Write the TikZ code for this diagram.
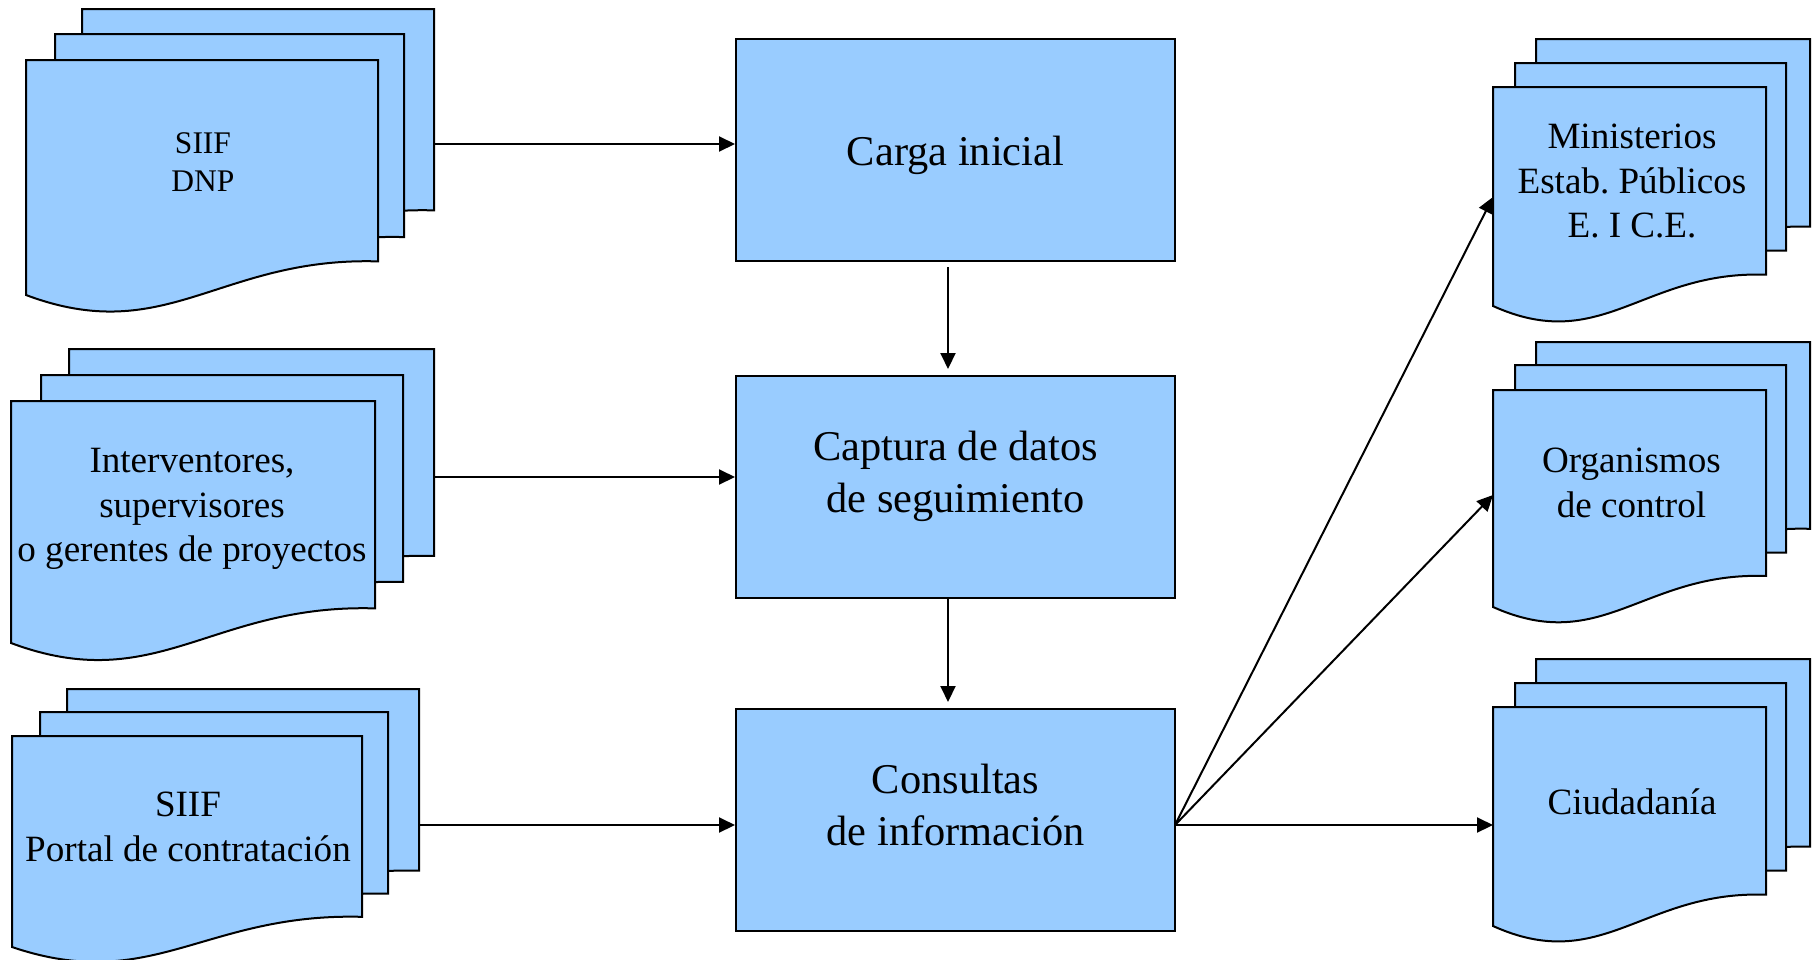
\documentclass[tikz,border=0pt]{standalone}
\usepackage{fontspec}
\setmainfont{Liberation Serif}
\usetikzlibrary{arrows.meta}
\definecolor{docblue}{RGB}{153,204,255}
\frenchspacing
% document page: left, top, width, height (to the lower left corner)
\newcommand{\docpage}[4]{%
  \filldraw[page] (#1,#2) -- ({#1+#3},#2) -- ({#1+#3},{#2+0.857*#4})
    .. controls ({#1+0.55*#3},{#2+0.837*#4}) and ({#1+0.4*#3},{#2+1.225*#4}) .. (#1,{#2+#4}) -- cycle;}
\begin{document}
\begin{tikzpicture}[x=0.5pt,y=-0.5pt,
  page/.style={fill=docblue,draw=black,line width=1pt},
  box/.style={rectangle,fill=docblue,draw=black,line width=1pt,minimum width=219.5pt,minimum height=111pt,inner sep=0pt},
  ctext/.style={align=center,inner sep=0pt,font=\fontsize{21.2}{26}\selectfont},
  dtext/.style={align=center,inner sep=0pt,font=\fontsize{18.55}{22.3}\selectfont},
  stext/.style={align=center,inner sep=0pt,font=\fontsize{15.75}{19.2}\selectfont},
  arr/.style={-{Triangle[length=8pt,width=7.5pt]},line width=1pt}]
\useasboundingbox (0,0) rectangle (1814,959);

% left documents
\docpage{82}{9}{352}{235}
\docpage{55}{34}{349}{237}
\docpage{26}{60}{352}{235}
\node[stext] (doc1) at (203,162) {SIIF\\DNP};

\docpage{69}{349}{365}{241.5}
\docpage{41}{375}{362}{241.5}
\docpage{11}{401}{364}{242}
\node[dtext] (doc2) at (192,509) {Interventores,\\supervisores\\o gerentes de proyectos};

\docpage{67}{689}{352}{212}
\docpage{40}{712}{348}{212}
\docpage{12}{736}{350}{211}
\node[dtext] (doc3) at (188,827) {SIIF\\Portal de contratación};

% right documents
\docpage{1536}{39}{274}{219}
\docpage{1515}{63}{271}{219}
\docpage{1493}{87}{273}{219}
\node[dtext] (out1) at (1632,181) {Ministerios\\Estab. Públicos\\E. I C.E.};

\docpage{1536}{342}{274}{218}
\docpage{1515}{365}{271}{219}
\docpage{1493}{390}{273}{217}
\node[dtext] (out2) at (1631.5,483) {Organismos\\de control};

\docpage{1536}{659}{274}{219}
\docpage{1515}{683}{271}{219}
\docpage{1493}{707}{273}{219}
\node[dtext] (out3) at (1632,802) {Ciudadanía};

% process boxes
\node[box] (carga) at (955.5,150) {};
\node[ctext] (cargat) at (955.5,155) {Carga inicial};
\node[box] (captura) at (955.5,487) {};
\node[ctext] (capturat) at (955.5,476) {Captura de datos\\de seguimiento};
\node[box] (consultas) at (955.5,820) {};
\node[ctext] (consultast) at (955.5,804.5) {Consultas\\de información};

% connection points
\coordinate (d1out) at (434,144);
\coordinate (d2out) at (434,477);
\coordinate (d3out) at (419,825);
\coordinate (cout) at (1175,825);
\coordinate (r1in) at (1493,197);
\coordinate (r2in) at (1493,495);
\coordinate (r3in) at (1493,825);
\coordinate (vx) at (948,0);

% connectors
\draw[arr] (d1out) -- (d1out -| carga.west);
\draw[arr] (d2out) -- (d2out -| captura.west);
\draw[arr] (d3out) -- (d3out -| consultas.west);
\draw[arr,shorten <=2.5pt,shorten >=3pt] (carga.south -| vx) -- (captura.north -| vx);
\draw[arr,shorten >=3pt] (captura.south -| vx) -- (consultas.north -| vx);
\draw[arr] (cout) -- (r1in);
\draw[arr] (cout) -- (r2in);
\draw[arr] (cout) -- (r3in);
\end{tikzpicture}
\end{document}
